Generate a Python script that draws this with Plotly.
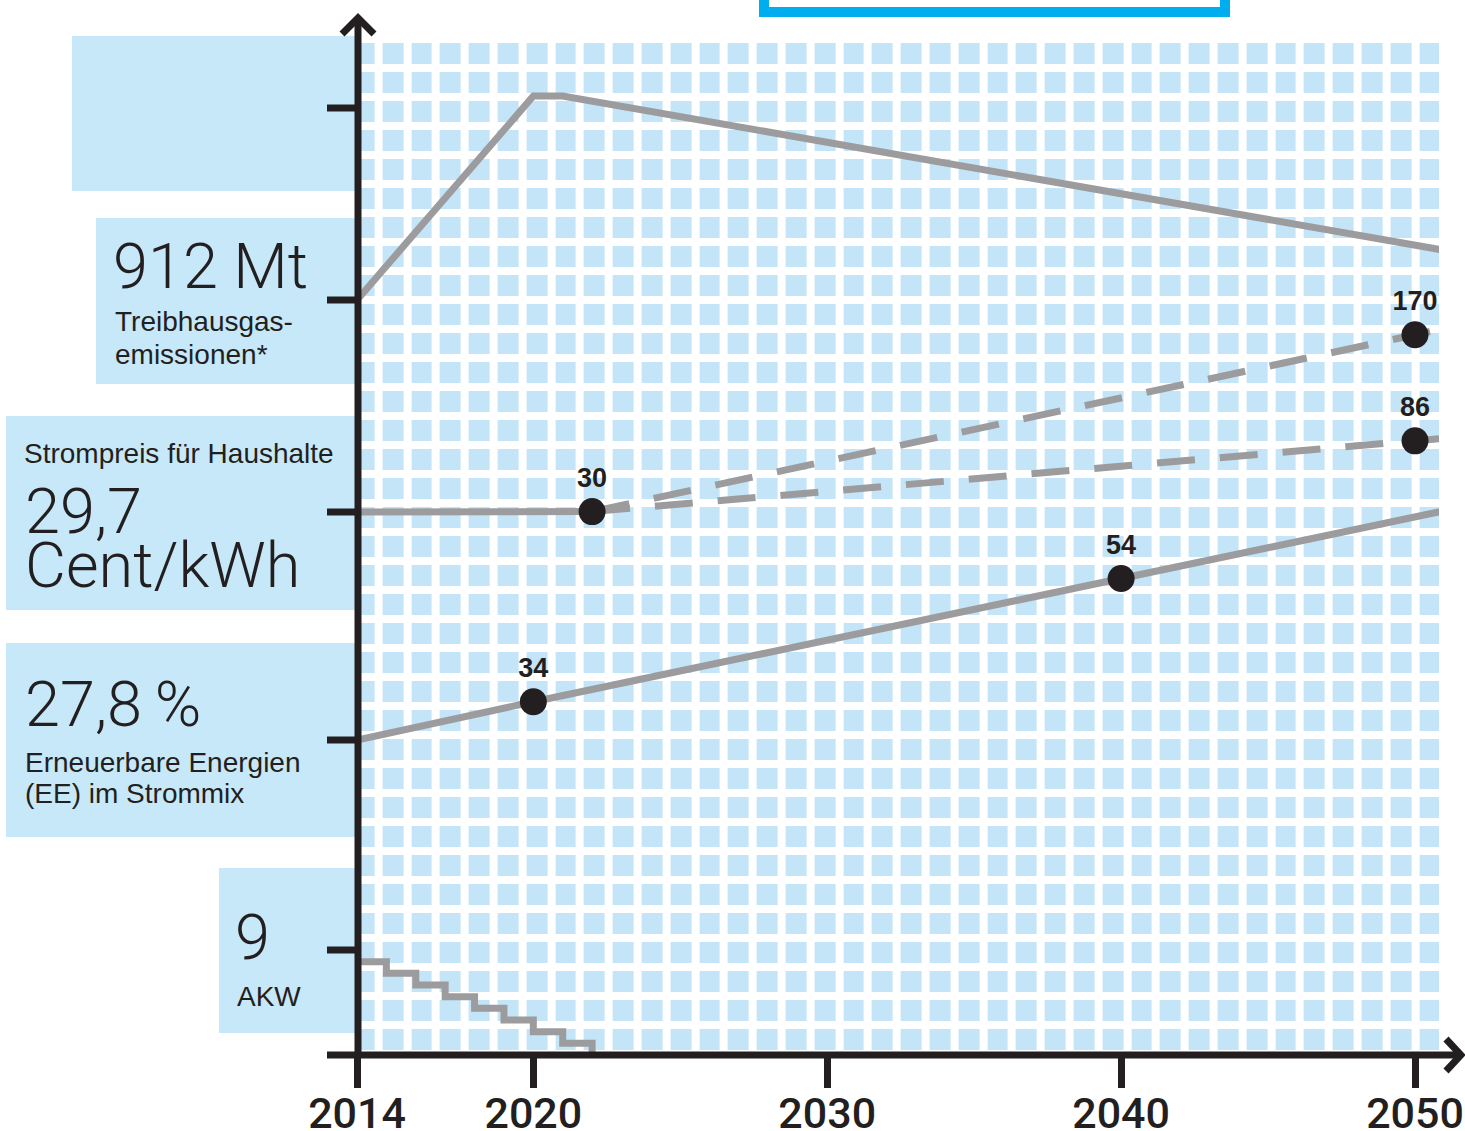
import plotly.graph_objects as go

# ---- data -------------------------------------------------------------
years_ticks = [2014, 2020, 2030, 2040, 2050]

# greenhouse gas emissions (Mt)
ghg_years = [2014, 2020, 2021, 2051]
ghg_values = [912, 1150, 1150, 970]

# household electricity price (Cent/kWh)
price_years = [2014, 2022]
price_values = [29.7, 30]
price_high_years = [2022, 2050, 2051]
price_high_values = [30, 170, 175]
price_low_years = [2022, 2050, 2051]
price_low_values = [30, 86, 88]
price_dot_years = [2022, 2050, 2050]
price_dot_values = [30, 170, 86]

# renewable share in the power mix (%)
ee_years = [2014, 2020, 2040, 2051]
ee_values = [27.8, 34, 54, 65]
ee_dot_years = [2020, 2040]
ee_dot_values = [34, 54]

# nuclear power plants in operation
akw_years = [2014, 2015, 2016, 2017, 2018, 2019, 2020, 2021, 2022, 2022]
akw_values = [9, 8, 7, 6, 5, 4, 3, 2, 1, 0]

# ---- page geometry (pixels) -------------------------------------------
W, H = 1465, 1131
PLOT_L, PLOT_R = 357, 1439
PLOT_T, PLOT_B = 40, 1055
PX_PER_YEAR = (1415 - 357) / 36

INK = "#231f20"
GREY = "#9c9c9e"
TILE = "#c3e5f7"
BOX = "#c7e8f8"
CYAN = "#00aeef"
FONT = "Liberation Sans, Arial, sans-serif"
LIGHT = "Roboto, Liberation Sans, sans-serif"


def fx(px):
    return px / W


def fy(py):
    return 1 - py / H


def yrange(val, py, ppu):
    return [val - (PLOT_B - py) / ppu, val + (py - PLOT_T) / ppu]


fig = go.Figure()

# mosaic background on the base (pixel) axes
tile_x = [364 + 28.8 * i for i in range(38)]
tile_y = [53.5 + 29 * j for j in range(35)]
fig.add_trace(go.Heatmap(
    x=tile_x, y=tile_y, z=[[1] * len(tile_x) for _ in tile_y],
    zmin=0, zmax=1, colorscale=[[0, TILE], [1, TILE]], showscale=False,
    xgap=8, ygap=8, hoverinfo="skip", xaxis="x", yaxis="y"))

line = dict(color=GREY, width=7)
dash_line = dict(color=GREY, width=7, dash="38px,25px")

fig.add_trace(go.Scatter(x=ghg_years, y=ghg_values, mode="lines", line=line,
                         xaxis="x2", yaxis="y2", hoverinfo="skip"))
fig.add_trace(go.Scatter(x=price_high_years, y=price_high_values, mode="lines",
                         line=dash_line, xaxis="x2", yaxis="y3", hoverinfo="skip"))
fig.add_trace(go.Scatter(x=price_low_years, y=price_low_values, mode="lines",
                         line=dash_line, xaxis="x2", yaxis="y3", hoverinfo="skip"))
fig.add_trace(go.Scatter(x=price_years, y=price_values, mode="lines", line=line,
                         xaxis="x2", yaxis="y3", hoverinfo="skip"))
fig.add_trace(go.Scatter(x=ee_years, y=ee_values, mode="lines", line=line,
                         xaxis="x2", yaxis="y4", hoverinfo="skip"))
fig.add_trace(go.Scatter(x=akw_years, y=akw_values, mode="lines", line_shape="vh",
                         line=line, xaxis="x2", yaxis="y5", hoverinfo="skip"))

dot = dict(size=27, color=INK)
label_font = dict(family=FONT, size=27, color=INK, weight="bold")
fig.add_trace(go.Scatter(x=price_dot_years, y=price_dot_values, mode="markers+text",
                         marker=dot, text=[str(v) for v in price_dot_values],
                         textposition="top center", textfont=label_font,
                         xaxis="x2", yaxis="y3", hoverinfo="skip", cliponaxis=False))
fig.add_trace(go.Scatter(x=ee_dot_years, y=ee_dot_values, mode="markers+text",
                         marker=dot, text=[str(v) for v in ee_dot_values],
                         textposition="top center", textfont=label_font,
                         xaxis="x2", yaxis="y4", hoverinfo="skip", cliponaxis=False))

dom_x = [fx(PLOT_L), fx(PLOT_R)]
dom_y = [fy(PLOT_B), fy(PLOT_T)]
hidden = dict(visible=False, showgrid=False, zeroline=False, fixedrange=True,
              automargin=False)

x2_range = [2014, 2014 + (PLOT_R - PLOT_L) / PX_PER_YEAR]

fig.update_layout(
    width=W, height=H, margin=dict(l=0, r=0, t=0, b=0, pad=0, autoexpand=False),
    paper_bgcolor="white", plot_bgcolor="white", showlegend=False,
    xaxis=dict(domain=dom_x, range=[PLOT_L, PLOT_R], **hidden),
    yaxis=dict(domain=dom_y, range=[PLOT_B, PLOT_T], **hidden),
    xaxis2=dict(overlaying="x", anchor="y", side="bottom", range=x2_range,
                tickvals=years_ticks, ticktext=[str(v) for v in years_ticks],
                ticks="outside", ticklen=32, tickwidth=7, tickcolor=INK,
                ticklabelstandoff=-12,
                tickfont=dict(family=LIGHT, size=43, color=INK, weight=500),
                showgrid=False, zeroline=False, showline=False, fixedrange=True,
                automargin=False),
    yaxis2=dict(overlaying="y", anchor="x2", range=yrange(912, 300, 0.857), **hidden),
    yaxis3=dict(overlaying="y", anchor="x2", range=yrange(29.7, 512, 1.2636), **hidden),
    yaxis4=dict(overlaying="y", anchor="x2", range=yrange(27.8, 740, 6.163), **hidden),
    yaxis5=dict(overlaying="y", anchor="x2", range=yrange(0, 1055, 105 / 9), **hidden),
)

shapes = []
# label boxes on the left
for x0, y0, x1, y1 in [(72, 36, 355, 191), (96, 218, 355, 384), (6, 416, 355, 610),
                       (6, 643, 355, 837), (219, 868, 355, 1033)]:
    shapes.append(dict(type="rect", xref="paper", yref="paper",
                       x0=fx(x0), x1=fx(x1), y0=fy(y1), y1=fy(y0),
                       line=dict(width=0), fillcolor=BOX, layer="below"))

# frame at the top edge
shapes.append(dict(type="rect", xref="paper", yref="paper",
                   x0=fx(764), x1=fx(1225), y0=fy(12), y1=fy(-20),
                   line=dict(color=CYAN, width=10), fillcolor="rgba(0,0,0,0)"))

axis_line = dict(color=INK, width=7)
# y axis with arrow
shapes.append(dict(type="line", xref="paper", yref="paper",
                   x0=fx(358), x1=fx(358), y0=fy(1058), y1=fy(18), line=axis_line))
shapes.append(dict(type="path", xref="paper", yref="paper",
                   path=f"M {fx(342)},{fy(34)} L {fx(358)},{fy(18)} L {fx(374)},{fy(34)}",
                   line=axis_line))
# x axis with arrow
shapes.append(dict(type="line", xref="paper", yref="paper",
                   x0=fx(327), x1=fx(1461), y0=fy(1055), y1=fy(1055), line=axis_line))
shapes.append(dict(type="path", xref="paper", yref="paper",
                   path=f"M {fx(1446)},{fy(1039)} L {fx(1461)},{fy(1055)} L {fx(1446)},{fy(1071)}",
                   line=axis_line))
# y tick marks at the starting value of each series
for ref, val in [("y2", ghg_values[0]), ("y3", price_values[0]),
                 ("y4", ee_values[0]), ("y5", akw_values[0])]:
    shapes.append(dict(type="line", xref="paper", yref=ref,
                       x0=fx(327), x1=fx(358), y0=val, y1=val, line=axis_line))
shapes.append(dict(type="line", xref="paper", yref="paper",
                   x0=fx(327), x1=fx(358), y0=fy(108), y1=fy(108), line=axis_line))
fig.update_layout(shapes=shapes)

# box texts
big = dict(family=LIGHT, size=63, color=INK, weight=300)
small = dict(family=FONT, size=28, color=INK)
texts = [
    ("912 Mt", 112, 229, big),
    ("Treibhausgas-", 114, 305, small),
    ("emissionen*", 114, 338, small),
    ("Strompreis für Haushalte", 23, 437, small),
    ("29,7", 24, 474, big),
    ("Cent/kWh", 24, 528, big),
    ("27,8\u2009%", 24, 667, big),
    ("Erneuerbare Energien", 24, 746, small),
    ("(EE) im Strommix", 24, 777, small),
    ("9", 234, 900, big),
    ("AKW", 236, 980, small),
]
for txt, px, py, font in texts:
    fig.add_annotation(text=txt, x=fx(px), y=fy(py), xref="paper", yref="paper",
                       xanchor="left", yanchor="top", showarrow=False, align="left",
                       font=font, borderpad=0)

fig.write_html("out.html")
